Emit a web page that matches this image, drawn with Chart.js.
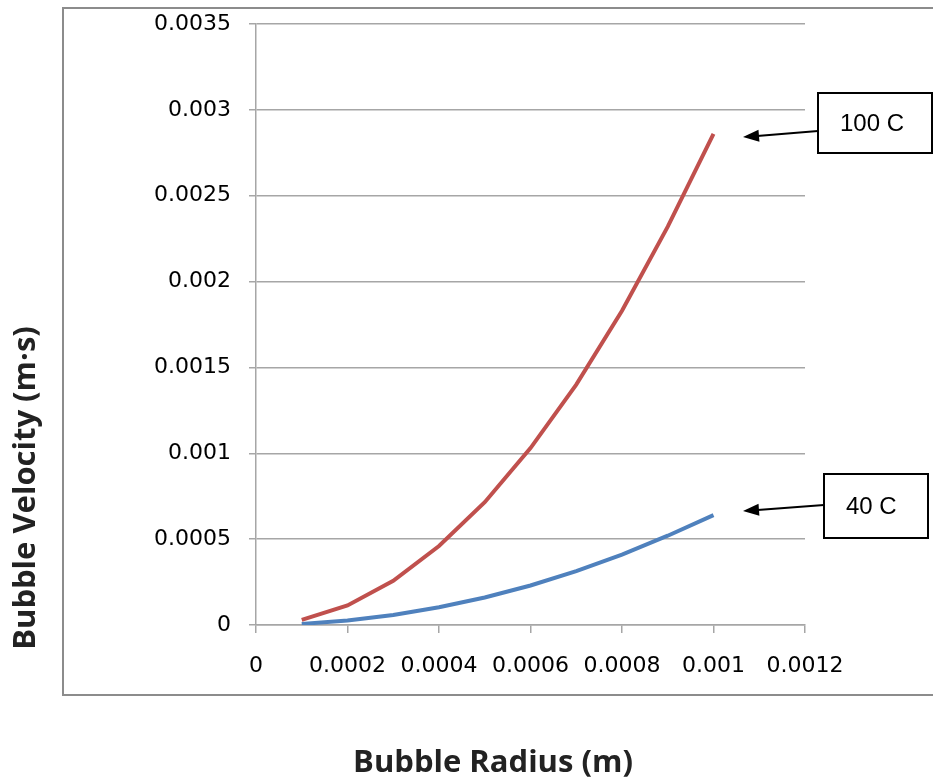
<!DOCTYPE html>
<html>
<head>
<meta charset="utf-8">
<script src="https://cdn.jsdelivr.net/npm/chart.js@4/dist/chart.umd.min.js"></script>
<style>
  html, body { margin: 0; padding: 0; background: #fff; }
  #wrap { position: relative; width: 933px; height: 782px; }
</style>
</head>
<body>
<div id="wrap"><canvas id="chart" width="933" height="782"></canvas></div>
<script>
// ---------- DATA ----------
const radius = [0.0001, 0.0002, 0.0003, 0.0004, 0.0005, 0.0006, 0.0007, 0.0008, 0.0009, 0.001];
const vel100 = [0.00003, 0.000114, 0.000257, 0.00046, 0.000715, 0.00103, 0.0014, 0.00183, 0.00232, 0.00286];
const vel40 = [0.0000065, 0.000026, 0.000058, 0.000103, 0.00016, 0.00023, 0.000314, 0.00041, 0.00052, 0.00064];
const xTickLabels = ["0", "0.0002", "0.0004", "0.0006", "0.0008", "0.001", "0.0012"];
const yTickLabels = ["0", "0.0005", "0.001", "0.0015", "0.002", "0.0025", "0.003", "0.0035"];
const seriesNames = ["100 C", "40 C"];
const xTitle = "Bubble Radius (m)";
const yTitle = "Bubble Velocity (m\u00B7s)";

// ---------- COLORS ----------
const COLORS = {
  red: "#C0504D",
  blue: "#4F81BD",
  grid: "#A6A6A6",
  frame: "#8C8C8C",
  text: "#000000"
};

const toPoints = (ys) => radius.map((x, i) => ({ x, y: ys[i] }));

// ---------- DECORATION PLUGIN ----------
function arrow(ctx, x1, y1, x2, y2) {
  ctx.save();
  ctx.strokeStyle = "#000";
  ctx.fillStyle = "#000";
  ctx.lineWidth = 2;
  ctx.beginPath();
  ctx.moveTo(x1, y1);
  ctx.lineTo(x2 + 8, y2 - 0.6);
  ctx.stroke();
  const a = Math.atan2(y2 - y1, x2 - x1);
  const len = 16, w = 6;
  ctx.beginPath();
  ctx.moveTo(x2, y2);
  ctx.lineTo(x2 - len * Math.cos(a) + w * Math.sin(a), y2 - len * Math.sin(a) - w * Math.cos(a));
  ctx.lineTo(x2 - len * Math.cos(a) - w * Math.sin(a), y2 - len * Math.sin(a) + w * Math.cos(a));
  ctx.closePath();
  ctx.fill();
  ctx.restore();
}

function labelBox(ctx, x, y, w, h, text) {
  ctx.save();
  ctx.fillStyle = "#fff";
  ctx.fillRect(x, y, w, h);
  ctx.strokeStyle = "#000";
  ctx.lineWidth = 2;
  ctx.strokeRect(x, y, w, h);
  ctx.fillStyle = COLORS.text;
  ctx.font = "24px 'Liberation Sans', Arial, sans-serif";
  ctx.textBaseline = "middle";
  ctx.fillText(text, x + 22, y + h / 2 + 1);
  ctx.restore();
}

const decor = {
  id: "decor",
  beforeDraw(chart) {
    const ctx = chart.ctx;
    ctx.save();
    ctx.fillStyle = "#fff";
    ctx.fillRect(0, 0, chart.width, chart.height);
    ctx.strokeStyle = COLORS.frame;
    ctx.lineWidth = 2;
    ctx.beginPath();
    ctx.moveTo(960, 8);
    ctx.lineTo(63, 8);
    ctx.lineTo(63, 695);
    ctx.lineTo(960, 695);
    ctx.stroke();
    ctx.restore();
  },
  afterDraw(chart) {
    const ctx = chart.ctx;
    arrow(ctx, 818, 131, 743, 137);
    labelBox(ctx, 818, 93, 114, 60, seriesNames[0]);
    arrow(ctx, 824, 505, 743, 511);
    labelBox(ctx, 824, 474, 104, 64, seriesNames[1]);

    ctx.save();
    ctx.fillStyle = "#222";
    ctx.font = "bold 31px 'Open Sans', sans-serif";
    ctx.textAlign = "center";
    ctx.textBaseline = "middle";
    ctx.fillText(xTitle, 493, 763);
    ctx.translate(26, 488);
    ctx.rotate(-Math.PI / 2);
    ctx.fillText(yTitle, 0, 0);
    ctx.restore();
  }
};

// ---------- CHART ----------
new Chart(document.getElementById("chart"), {
  type: "scatter",
  data: {
    datasets: [
      {
        label: seriesNames[0],
        data: toPoints(vel100),
        showLine: true,
        borderColor: COLORS.red,
        borderWidth: 4,
        pointRadius: 0,
        tension: 0
      },
      {
        label: seriesNames[1],
        data: toPoints(vel40),
        showLine: true,
        borderColor: COLORS.blue,
        borderWidth: 4,
        pointRadius: 0,
        tension: 0
      }
    ]
  },
  plugins: [decor],
  options: {
    responsive: false,
    animation: false,
    layout: { padding: { top: 24, right: 128, left: 0, bottom: 0 } },
    plugins: {
      legend: { display: false },
      tooltip: { enabled: false }
    },
    scales: {
      x: {
        type: "linear",
        min: 0,
        max: 0.0012,
        afterFit: (s) => { s.height = 157; },
        afterBuildTicks: (s) => { s.ticks = xTickLabels.map((t) => ({ value: Number(t) })); },
        ticks: {
          color: COLORS.text,
          font: { family: "'DejaVu Sans'", size: 22 },
          padding: 20,
          maxRotation: 0,
          autoSkip: false,
          callback: (v, i) => xTickLabels[i]
        },
        grid: {
          drawOnChartArea: false,
          color: COLORS.grid,
          tickLength: 8,
          lineWidth: 1.5
        },
        border: { color: COLORS.grid, width: 1.5 }
      },
      y: {
        min: 0,
        max: 0.0035,
        afterFit: (s) => { s.width = 256; },
        afterBuildTicks: (s) => { s.ticks = yTickLabels.map((t) => ({ value: Number(t) })); },
        ticks: {
          color: COLORS.text,
          font: { family: "'DejaVu Sans'", size: 22, lineHeight: 0.2 },
          padding: 18,
          autoSkip: false,
          callback: (v, i) => yTickLabels[i]
        },
        grid: {
          color: COLORS.grid,
          tickLength: 7,
          lineWidth: 1.5
        },
        border: { color: COLORS.grid, width: 1.5 }
      }
    }
  }
});
</script>
</body>
</html>
